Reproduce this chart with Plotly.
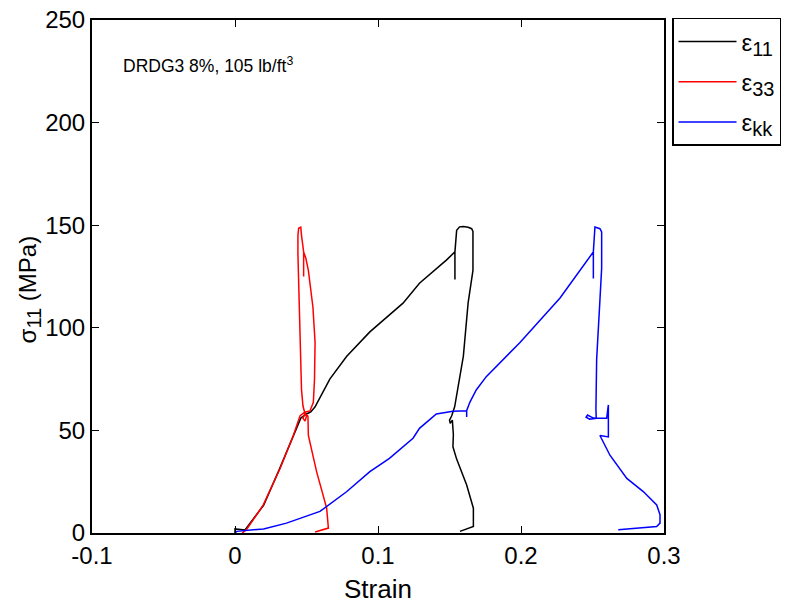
import plotly.graph_objects as go

# eps_11 (axial strain) path
e11_x = [0.0, 0.0, 0.007, 0.02, 0.031, 0.041, 0.046, 0.05, 0.053,
         0.056, 0.0594, 0.0663, 0.078, 0.0943, 0.1175, 0.129, 0.1478, 0.1538,
         0.1538, 0.1538, 0.155, 0.157, 0.1597, 0.163, 0.1655, 0.1664, 0.1664,
         0.1643, 0.163, 0.1597, 0.1536, 0.1515, 0.150, 0.1505, 0.152, 0.1527,
         0.1524, 0.155, 0.162, 0.1667, 0.1667, 0.1573]
e11_y = [0.0, 2.0, 1.5, 13.5, 31.0, 47.5, 56.0, 58.0, 59.0,
         61.5, 66.0, 75.0, 86.0, 98.0, 112.0, 121.7, 133.0, 137.0,
         123.5, 137.0, 147.5, 149.2, 149.4, 149.0, 148.3, 147.0, 128.0,
         117.0, 112.0, 86.2, 61.5, 57.0, 55.0, 53.5, 55.0, 48.0,
         42.0, 36.0, 23.4, 12.1, 3.2, 0.8]

# eps_33 (lateral strain) path
e33_x = [0.005, 0.008, 0.0198, 0.0315, 0.0408, 0.0455, 0.048, 0.050, 0.049,
         0.0475, 0.0495, 0.0524, 0.0548, 0.0556, 0.056, 0.0545, 0.0513, 0.0495,
         0.048, 0.048, 0.048, 0.0465, 0.046, 0.0445, 0.044, 0.044, 0.0448,
         0.0455, 0.0465, 0.0475, 0.049, 0.051, 0.0515, 0.0513, 0.0571, 0.0641,
         0.0653, 0.056]
e33_y = [0.0, 1.6, 13.7, 31.4, 47.5, 57.2, 58.5, 57.0, 54.5,
         56.0, 59.0, 59.5, 63.7, 75.0, 92.7, 110.0, 128.0, 134.0,
         137.0, 125.0, 137.0, 145.0, 149.0, 148.5, 145.0, 136.0, 110.0,
         88.0, 70.0, 62.0, 58.0, 57.0, 50.0, 47.5, 29.8, 12.1,
         2.4, 0.5]

# eps_kk (volumetric strain) path
ekk_x = [0.0, 0.0012, 0.02, 0.036, 0.0594, 0.078, 0.0943, 0.108, 0.1245, 0.129,
         0.1408, 0.1524, 0.162, 0.162, 0.162, 0.1643, 0.1687, 0.1757, 0.1873,
         0.1993, 0.2273, 0.2506, 0.2506, 0.2506, 0.2517, 0.2552, 0.2564, 0.2564,
         0.2552, 0.2529, 0.2524, 0.2526, 0.248, 0.2455, 0.2465, 0.2506, 0.2526,
         0.2599, 0.2611, 0.2611, 0.2552, 0.2622, 0.274, 0.2855, 0.2949, 0.2972,
         0.2972, 0.2949, 0.268]
ekk_y = [0.0, 0.8, 2.0, 4.8, 10.5, 20.1, 29.9, 36.4, 46.2, 51.0,
         58.0, 59.3, 59.6, 56.5, 59.6, 63.8, 69.7, 76.2, 84.3,
         92.8, 114.5, 137.0, 124.0, 137.0, 149.1, 148.3, 146.7, 129.0,
         113.6, 84.6, 60.4, 55.9, 55.5, 56.4, 57.5, 56.0, 55.9,
         55.9, 62.4, 46.8, 47.5, 37.9, 26.6, 20.2, 13.7, 8.9,
         4.8, 3.2, 1.6]

SUB = "<sub><span style='font-size:20px'>{}</span></sub>"
series = [
    ("ε" + SUB.format("11"), e11_x, e11_y, "#000000", "g1"),
    ("ε" + SUB.format("33"), e33_x, e33_y, "#ff0000", "g2"),
    ("ε" + SUB.format("kk"), ekk_x, ekk_y, "#0000ff", "g3"),
]

x_ticks = [-0.1, 0, 0.1, 0.2, 0.3]
x_ticklabels = ["-0.1", "0", "0.1", "0.2", "0.3"]
y_ticks = [0, 50, 100, 150, 200, 250]

fig = go.Figure()
for name, xs, ys, col, grp in series:
    fig.add_trace(go.Scatter(x=xs, y=ys, mode="lines", name=name,
                             legendgroup=grp,
                             line=dict(color=col, width=1.5)))

FONT = "Liberation Sans, Arial, sans-serif"
axis_common = dict(showgrid=False, zeroline=False, showline=True,
                   linecolor="black", linewidth=2, mirror="ticks",
                   ticks="inside", ticklen=7, tickwidth=1, tickcolor="black",
                   automargin=False,
                   tickfont=dict(family=FONT, size=24, color="black"))

fig.update_layout(
    width=807, height=603,
    margin=dict(l=92, r=143, t=20, b=70),
    paper_bgcolor="white", plot_bgcolor="white",
    font=dict(family=FONT, color="black"),
    xaxis=dict(range=[-0.1, 0.3], tickvals=x_ticks, ticktext=x_ticklabels,
               **axis_common),
    yaxis=dict(range=[0, 250], tickvals=y_ticks, **axis_common),
    legend=dict(x=1.014, y=1.004, xanchor="left", yanchor="top",
                bordercolor="black", borderwidth=1.5, bgcolor="white",
                font=dict(family=FONT, size=24), itemwidth=58,
                tracegroupgap=6),
    showlegend=True,
)

fig.add_annotation(xref="paper", yref="paper", x=-0.11, y=0.475,
                   xanchor="center", yanchor="middle", showarrow=False,
                   textangle=-90,
                   text="σ" + SUB.format("11") + " (MPa)",
                   font=dict(family=FONT, size=24, color="black"))

fig.add_annotation(xref="paper", yref="paper", x=0.5, y=-0.109,
                   xanchor="center", yanchor="middle", showarrow=False,
                   text="Strain",
                   font=dict(family=FONT, size=26, color="black"))

fig.add_annotation(xref="paper", yref="paper", x=0.0507, y=0.912,
                   xanchor="left", yanchor="middle", showarrow=False,
                   text="DRDG3 8%, 105 lb/ft<sup>3</sup>",
                   font=dict(family=FONT, size=17.5, color="black"))

fig.write_html("out.html", config={"displayModeBar": False},
               post_script="document.body.style.margin='0';")
